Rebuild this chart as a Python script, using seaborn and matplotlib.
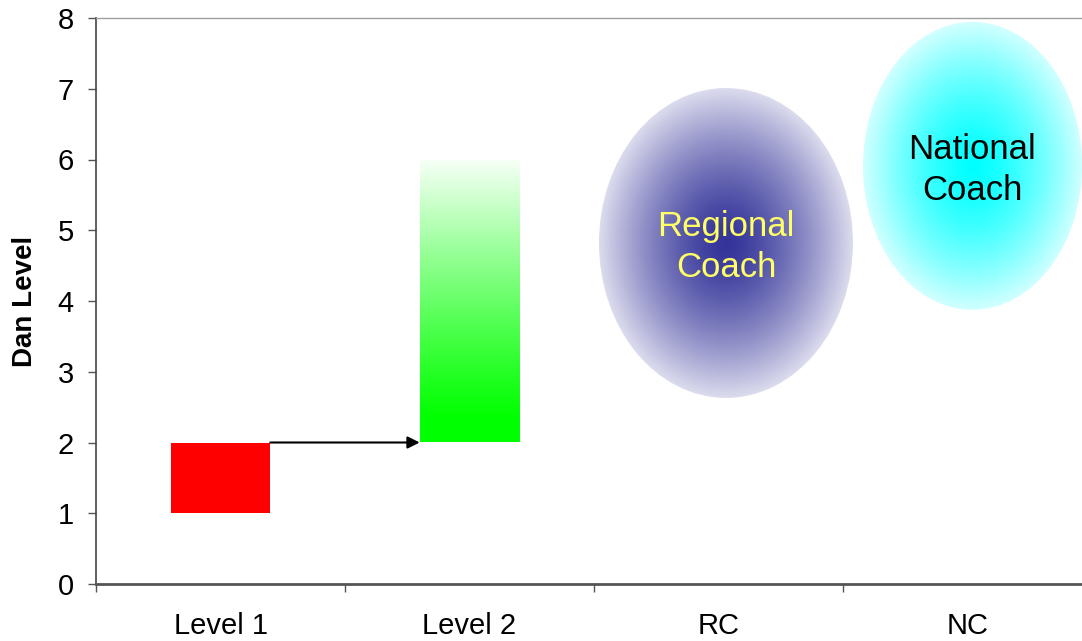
import numpy as np
import pandas as pd
import matplotlib
matplotlib.use("Agg")
import matplotlib.pyplot as plt
import seaborn as sns
from matplotlib.patches import Ellipse
from matplotlib.colors import to_rgb

# Coaching pathway categories along the x axis
categories = ["Level 1", "Level 2", "RC", "NC"]

# Dan grade ranges covered by the two coaching levels
bar_levels = ["Level 1", "Level 2"]
bar_bottoms = [1, 2]
bar_tops = [2, 6]
bar_colors = ["#ff0000", "#00ff00"]

# Coach zones drawn as shaded ellipses (x on category scale, y in Dan grades)
zone_labels = ["Regional\nCoach", "National\nCoach"]
zone_x = [2.03, 3.02]
zone_y = [4.82, 5.91]
zone_w = [1.02, 0.88]
zone_h = [4.38, 4.07]
zone_inner = ["#333399", "#00ffff"]
zone_outer = ["#dcdcee", "#d2ffff"]
zone_text = ["#ffff66", "#000000"]

y_ticks = list(range(0, 9))

sns.set_theme(style="white")
plt.rcParams["font.family"] = ["Liberation Sans", "DejaVu Sans"]

fig = plt.figure(figsize=(10.82, 6.41), dpi=100)
ax = fig.add_axes([96 / 1082, 57 / 641, 996 / 1082, 566 / 641])

# Floating bars: each spans from its lower to its upper Dan grade
for lvl, lo, hi, col in zip(bar_levels, bar_bottoms, bar_tops, bar_colors):
    sns.barplot(x=[lvl], y=[hi - lo], order=categories, color=col,
                saturation=1, width=0.4, bottom=lo, ax=ax, linewidth=0)

bars = [p for p in ax.patches]
lvl1_bar, lvl2_bar = bars[0], bars[1]

# Level 2 bar: green fading to white towards the top
x0, w = lvl2_bar.get_x(), lvl2_bar.get_width()
y0, h = lvl2_bar.get_y(), lvl2_bar.get_height()
lvl2_bar.set_facecolor("none")
frac = np.linspace(0, 1, 256)[:, None]
t = np.clip((frac - 0.08) / 0.92, 0, 1) ** 1.1 * 0.97
green = np.array(to_rgb(bar_colors[1]))
grad = green[None, None, :] * (1 - t[..., None]) + np.ones(3)[None, None, :] * t[..., None]
im = ax.imshow(grad, extent=[x0, x0 + w, y0, y0 + h], origin="lower",
               aspect="auto", zorder=2, interpolation="bilinear")
im.set_clip_path(lvl2_bar)

# Arrow from the top of Level 1 to the base of Level 2
ax.annotate("", xy=(lvl2_bar.get_x(), bar_tops[0]),
            xytext=(lvl1_bar.get_x() + lvl1_bar.get_width(), bar_tops[0]),
            arrowprops=dict(arrowstyle="-|>", color="black", lw=1.5,
                            mutation_scale=18, shrinkA=0, shrinkB=0),
            zorder=4)

# Radially shaded coach zones
for lab, cx, cy, ew, eh, cin, cout, tc in zip(zone_labels, zone_x, zone_y, zone_w,
                                              zone_h, zone_inner, zone_outer, zone_text):
    ell = Ellipse((cx, cy), ew, eh, facecolor="none", edgecolor="none", zorder=2)
    ax.add_patch(ell)
    gx = np.linspace(-1, 1, 400)
    gy = np.linspace(-1, 1, 400)
    XX, YY = np.meshgrid(gx, gy)
    r = np.clip(np.sqrt(XX ** 2 + YY ** 2), 0, 1)[..., None] ** 1.4
    img = np.array(to_rgb(cin)) * (1 - r) + np.array(to_rgb(cout)) * r
    eim = ax.imshow(img, extent=[cx - ew / 2, cx + ew / 2, cy - eh / 2, cy + eh / 2],
                    origin="lower", aspect="auto", zorder=2, interpolation="bilinear")
    eim.set_clip_path(ell)
    ax.text(cx, cy - 0.06, lab, ha="center", va="center", fontsize=25,
            color=tc, zorder=5, linespacing=1.32)

# Axes, ticks and frame
ax.set_xlim(-0.5, 3.5)
ax.set_ylim(0, 8)
ax.set_yticks(y_ticks)
ax.set_yticklabels([str(v) for v in y_ticks], fontsize=21, color="black")
ax.set_xticks([-0.5, 0.5, 1.5, 2.5, 3.5])
ax.set_xticklabels([])
ax.set_xticks(range(len(categories)), minor=True)
ax.set_xticklabels(categories, minor=True, fontsize=21, color="black")
ax.tick_params(axis="x", which="major", direction="out", length=6, width=1,
               color="#555555", bottom=True)
ax.tick_params(axis="x", which="minor", length=0, pad=20)
ax.tick_params(axis="y", direction="out", length=6, width=1, color="#555555",
               left=True, pad=10)
ax.set_xlabel("")
ax.set_ylabel("Dan Level", fontsize=20, fontweight="bold", color="black")
ax.yaxis.set_label_coords(-0.058, 0.5)

for side in ["left", "bottom", "top", "right"]:
    ax.spines[side].set_visible(True)
ax.spines["left"].set_color("#444444")
ax.spines["left"].set_linewidth(1.2)
ax.spines["bottom"].set_color("#555555")
ax.spines["bottom"].set_linewidth(2.0)
ax.spines["top"].set_color("#a0a0a0")
ax.spines["top"].set_linewidth(1.0)
ax.spines["right"].set_color("#a0a0a0")
ax.grid(False)

fig.savefig("out.png", dpi=100)
